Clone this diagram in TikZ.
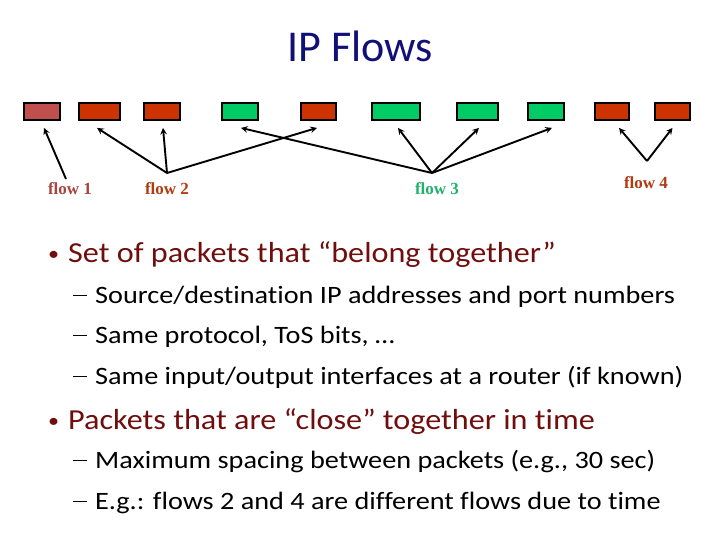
\documentclass[tikz,border=0pt]{standalone}
\usepackage{fontspec}
\setmainfont{Carlito}[Ligatures=NoCommon]
\newfontfamily\flowfont{Liberation Serif}
\newfontfamily\mainfont{Carlito}[FakeStretch=1.11, Ligatures=NoCommon]
\newfontfamily\subfont{Carlito}[FakeStretch=1.13, Ligatures=NoCommon]
\usetikzlibrary{shapes,arrows,positioning,calc}

\definecolor{titleblue}{RGB}{16,16,120}
\definecolor{itemred}{RGB}{112,14,14}
\definecolor{pktbrown}{RGB}{192,80,77}
\definecolor{pktred}{RGB}{204,51,0}
\definecolor{pktgreen}{RGB}{0,204,102}
\definecolor{lblbrown}{RGB}{168,68,64}
\definecolor{lblred}{RGB}{178,58,16}
\definecolor{lblgreen}{RGB}{32,176,112}

\newcommand{\itembullet}{\makebox[20pt][l]{\raisebox{1.5pt}{\fontsize{20}{20}\selectfont•}}}
\newcommand{\itemdash}{\makebox[22pt][l]{\rule[6.6pt]{14pt}{1.3pt}}}

\begin{document}
\begin{tikzpicture}[x=1pt,y=-1pt,
  pkt/.style={draw=black, line width=1.8pt, minimum height=17pt, inner sep=0pt},
  flowarrow/.style={line width=1.9pt, -stealth},
  flowlbl/.style={anchor=base, font=\flowfont\bfseries\fontsize{17}{17}\selectfont},
  mainitem/.style={anchor=base west, inner sep=0pt, text=itemred, font=\mainfont\fontsize{29}{29}\selectfont},
  subitem/.style={anchor=base west, inner sep=0pt, font=\subfont\fontsize{25}{25}\selectfont}]
\useasboundingbox (0,0) rectangle (720,540);

% Title
\node[anchor=base, inner sep=0pt, text=titleblue, font=\fontsize{44}{44}\selectfont] (title) at (360,62) {IP Flows};

% Packets
\foreach \x/\w/\c [count=\i] in {42/36/pktbrown, 99.5/41/pktred, 162/36/pktred, 240/36/pktgreen,
    318.5/35/pktred, 396/48/pktgreen, 477.5/41/pktgreen, 546/36/pktgreen, 612/34/pktred, 672.5/35/pktred}
  \node[pkt, fill=\c, minimum width=\w] (p\i) at (\x,111.5) {};

% Flow labels
\node[flowlbl, text=lblbrown] (l1) at (70,195) {flow 1};
\node[flowlbl, text=lblred] (l2) at (167,195) {flow 2};
\node[flowlbl, text=lblgreen] (l3) at (437,195) {flow 3};
\node[flowlbl, text=lblred] (l4) at (646,189) {flow 4};

\coordinate (f1) at (66,179);
\coordinate (f2) at (167,173);
\coordinate (f3) at (432,173);
\coordinate (f4) at (647,161);

% Arrows
\draw[flowarrow] (f1) -- ($(p1.south)+(2,7)$);
\draw[flowarrow] (f2) -- ($(p2.south)+(-2.5,7)$);
\draw[flowarrow] (f2) -- ($(p3.south)+(1,7)$);
\draw[flowarrow] (f2) -- ($(p5.south)+(-1.5,7)$);
\draw[flowarrow] (f3) -- ($(p4.south)+(1,7)$);
\draw[flowarrow] (f3) -- ($(p6.south)+(2,7)$);
\draw[flowarrow] (f3) -- ($(p7.south)+(1.5,7)$);
\draw[flowarrow] (f3) -- ($(p8.south)+(6,7)$);
\draw[flowarrow] (f4) -- ($(p9.south)+(7,7)$);
\draw[flowarrow] (f4) -- ($(p10.south)+(0,7)$);

% Bullets
\node[mainitem] (b1) at (48,262) {\itembullet Set of packets that “belong together”};
\node[subitem] (s1) at (73,303) {\itemdash Source/destination IP addresses and port numbers};
\node[subitem] (s2) at (73,343) {\itemdash Same protocol, ToS bits, …};
\node[subitem] (s3) at (73,384) {\itemdash Same input/output interfaces at a router (if known)};
\node[mainitem] (b2) at (48,429) {\itembullet Packets that are “close” together in time};
\node[subitem] (s4) at (73,468) {\itemdash Maximum spacing between packets (e.g., 30 sec)};
\node[subitem] (s5) at (73,509) {\itemdash E.g.: flows 2 and 4 are different flows due to time};
\end{tikzpicture}
\end{document}
